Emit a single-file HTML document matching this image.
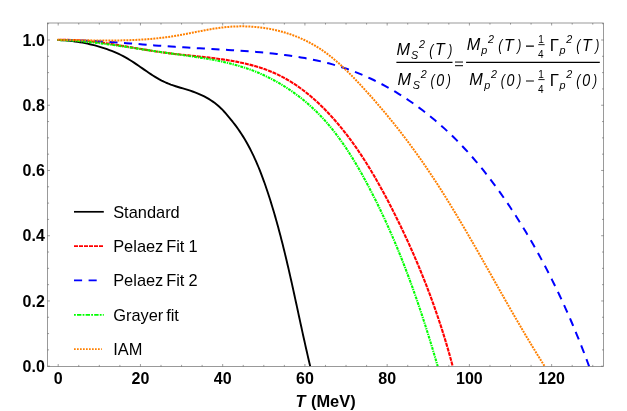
<!DOCTYPE html>
<html><head><meta charset="utf-8"><title>plot</title>
<style>
html,body{margin:0;padding:0;background:#fff;}
body{width:627px;height:411px;position:relative;overflow:hidden;font-family:"Liberation Sans",sans-serif;}
</style></head><body>
<svg width="627" height="411" viewBox="0 0 627 411" style="position:absolute;left:0;top:0;will-change:transform">
<defs><clipPath id="cp"><rect x="47.5" y="23.0" width="556.2" height="343.5"/></clipPath></defs>
<g fill="none" clip-path="url(#cp)" stroke-linejoin="round">
<path d="M57.40,40.10L59.89,40.17L62.39,40.27L64.89,40.42L67.38,40.62L69.98,40.86L72.48,41.14L74.97,41.45L77.46,41.81L79.94,42.21L82.52,42.66L84.99,43.14L87.46,43.65L89.92,44.21L92.47,44.82L94.91,45.45L97.34,46.11L99.75,46.81L102.16,47.55L104.65,48.36L107.02,49.17L109.38,50.02L111.72,50.92L114.14,51.90L116.44,52.89L118.71,53.93L120.96,55.02L123.18,56.16L125.47,57.41L127.64,58.66L129.78,59.95L131.90,61.29L134.00,62.66L136.18,64.12L138.25,65.54L140.32,66.97L142.39,68.40L144.54,69.90L146.61,71.33L148.68,72.74L150.77,74.13L152.87,75.49L155.08,76.87L157.22,78.15L159.38,79.38L161.58,80.55L163.89,81.71L166.15,82.75L168.45,83.71L170.79,84.60L173.15,85.43L175.64,86.25L178.04,87.00L180.46,87.74L182.89,88.46L185.31,89.18L187.83,89.95L190.24,90.71L192.63,91.51L195.00,92.36L197.44,93.30L199.75,94.27L202.02,95.31L204.26,96.41L206.46,97.58L208.71,98.88L210.81,100.21L212.87,101.62L214.88,103.10L216.93,104.71L217.00,104.76L218.45,105.99L219.91,107.31L221.36,108.71L222.82,110.20L224.27,111.76L225.73,113.39L227.18,115.07L228.64,116.80L230.09,118.57L231.55,120.37L233.00,122.19L233.02,122.22L234.72,124.39L236.43,126.68L238.10,129.00L239.72,131.34L241.30,133.72L242.83,136.13L244.32,138.56L245.78,141.02L247.19,143.50L248.57,146.01L249.91,148.55L251.21,151.10L252.44,153.59L253.68,156.19L254.89,158.80L256.06,161.44L257.21,164.09L258.34,166.75L259.43,169.44L260.50,172.13L261.55,174.85L262.57,177.57L263.57,180.30L264.56,183.05L265.52,185.80L266.43,188.47L267.37,191.24L268.28,194.01L269.18,196.80L270.07,199.58L270.95,202.37L271.81,205.17L272.66,207.96L273.50,210.77L274.32,213.58L275.14,216.39L275.94,219.20L276.74,222.02L277.49,224.75L278.27,227.57L279.03,230.40L279.78,233.23L280.53,236.07L281.26,238.90L281.99,241.74L282.71,244.58L283.42,247.43L284.12,250.27L284.82,253.12L285.51,255.97L286.17,258.72L286.84,261.57L287.51,264.43L288.18,267.28L288.84,270.13L289.49,272.99L290.14,275.85L290.78,278.70L291.42,281.56L292.06,284.41L292.69,287.27L293.32,290.12L293.95,292.98L294.55,295.74L295.17,298.59L295.79,301.44L296.41,304.29L297.03,307.14L297.65,309.99L298.26,312.84L298.87,315.68L299.49,318.53L300.10,321.37L300.72,324.21L301.34,327.04L301.95,329.87L302.55,332.61L303.17,335.44L303.79,338.26L304.42,341.08L305.05,343.90L305.68,346.72L306.31,349.53L306.95,352.33L307.59,355.13L308.24,357.93L308.89,360.73L309.54,363.51L310.20,366.30" stroke="#000" stroke-width="1.9"/>
<path d="M57.40,40.00L60.88,39.92L64.34,39.89L67.78,39.92L71.21,40.01L74.62,40.14L78.02,40.32L81.40,40.54L84.77,40.80L88.13,41.11L91.49,41.45L94.83,41.82L98.16,42.22L101.49,42.65L104.81,43.11L108.12,43.59L111.43,44.09L114.74,44.61L118.04,45.14L121.34,45.69L124.65,46.24L127.95,46.80L131.25,47.37L134.56,47.94L137.87,48.50L141.19,49.06L144.51,49.62L147.84,50.16L151.17,50.70L154.52,51.22L157.87,51.72L161.23,52.20L164.61,52.66L167.99,53.10L171.39,53.52L174.80,53.92L178.21,54.30L181.63,54.68L185.05,55.04L188.48,55.40L191.91,55.76L195.34,56.12L198.77,56.49L202.20,56.86L205.62,57.24L209.04,57.63L212.46,58.04L215.86,58.47L219.26,58.93L222.64,59.41L226.02,59.91L229.38,60.45L232.73,61.02L236.06,61.64L239.38,62.29L242.67,62.98L245.95,63.72L249.20,64.52L252.44,65.36L255.65,66.26L258.83,67.22L261.99,68.24L265.11,69.33L268.21,70.49L271.28,71.71L274.32,73.02L277.32,74.39L280.29,75.85L283.22,77.38L286.13,78.98L288.99,80.65L291.83,82.39L294.63,84.20L297.39,86.07L300.12,88.00L302.82,90.00L305.49,92.04L308.12,94.15L310.72,96.30L313.29,98.51L315.82,100.77L318.32,103.07L320.79,105.41L323.22,107.80L325.62,110.23L327.99,112.69L330.33,115.19L332.63,117.72L334.90,120.29L337.14,122.88L339.35,125.50L341.52,128.14L343.66,130.80L345.77,133.49L347.85,136.20L349.89,138.92L351.91,141.66L353.90,144.43L355.86,147.21L357.79,150.00L359.70,152.81L361.58,155.64L363.44,158.49L365.27,161.35L367.08,164.22L368.86,167.10L370.63,170.00L372.37,172.92L374.09,175.84L375.79,178.77L377.47,181.72L379.14,184.67L380.78,187.64L382.42,190.61L384.03,193.59L385.63,196.58L387.22,199.58L388.79,202.58L390.35,205.59L391.89,208.60L393.43,211.62L394.95,214.64L396.46,217.67L397.96,220.71L399.44,223.75L400.92,226.79L402.38,229.85L403.83,232.90L405.26,235.96L406.69,239.03L408.10,242.10L409.49,245.18L410.88,248.27L412.25,251.36L413.61,254.45L414.96,257.55L416.29,260.66L417.61,263.77L418.92,266.88L420.21,270.01L421.49,273.13L422.76,276.27L424.02,279.41L425.26,282.55L426.49,285.70L427.70,288.86L428.90,292.02L430.09,295.18L431.26,298.36L432.43,301.54L433.57,304.72L434.71,307.91L435.82,311.10L436.93,314.30L438.02,317.51L439.10,320.72L440.16,323.94L441.21,327.17L442.25,330.39L443.27,333.63L444.28,336.87L445.27,340.12L446.25,343.37L447.21,346.63L448.17,349.89L449.10,353.16L450.02,356.44L450.93,359.72L451.82,363.01L452.70,366.30" stroke="#ff0000" stroke-width="2.1" stroke-dasharray="4.0 0.85"/>
<path d="M589.10,366.30L587.70,362.50L586.28,358.70L584.84,354.91L583.39,351.13L581.91,347.34L580.42,343.56L578.92,339.79L577.39,336.02L575.85,332.26L574.29,328.50L572.71,324.75L571.11,321.00L569.49,317.27L567.86,313.53L566.20,309.81L564.53,306.09L562.84,302.39L561.13,298.68L559.40,294.99L557.65,291.31L555.88,287.64L554.09,283.97L552.28,280.32L550.45,276.67L548.61,273.04L546.74,269.41L544.85,265.80L542.94,262.19L541.02,258.60L539.07,255.02L537.10,251.45L535.11,247.90L533.10,244.36L531.06,240.83L529.01,237.31L526.94,233.81L524.84,230.31L522.72,226.84L520.59,223.38L518.43,219.93L516.24,216.50L514.04,213.08L511.81,209.68L509.57,206.29L507.29,202.92L505.00,199.57L502.69,196.23L500.35,192.91L497.99,189.61L495.60,186.33L493.19,183.06L490.75,179.82L488.29,176.60L485.79,173.40L483.27,170.22L480.72,167.07L478.14,163.94L475.53,160.84L472.89,157.76L470.21,154.71L467.50,151.69L464.76,148.70L461.98,145.74L459.17,142.81L456.32,139.91L453.43,137.04L450.50,134.21L447.54,131.41L444.55,128.64L441.52,125.91L438.45,123.21L435.35,120.55L432.21,117.93L429.04,115.35L425.83,112.81L422.59,110.31L419.32,107.85L416.02,105.43L412.69,103.06L409.32,100.74L405.93,98.46L402.51,96.23L399.05,94.05L395.57,91.92L392.07,89.84L388.53,87.82L384.97,85.84L381.38,83.93L377.76,82.06L374.12,80.25L370.46,78.51L366.77,76.81L363.06,75.18L359.32,73.61L355.56,72.10L351.78,70.66L347.98,69.28L344.16,67.96L340.31,66.71L336.45,65.52L332.57,64.40L328.67,63.33L324.75,62.33L320.82,61.38L316.87,60.49L312.91,59.64L308.93,58.85L304.95,58.10L300.95,57.40L296.94,56.74L292.92,56.12L288.90,55.53L284.87,54.98L280.83,54.47L276.79,53.98L272.74,53.53L268.69,53.10L264.63,52.69L260.57,52.31L256.51,51.95L252.45,51.61L248.39,51.29L244.32,50.98L240.25,50.70L236.18,50.42L232.11,50.16L228.03,49.90L223.96,49.66L219.88,49.42L215.81,49.19L211.74,48.96L207.66,48.74L203.59,48.52L199.51,48.29L195.44,48.06L191.37,47.83L187.30,47.60L183.23,47.35L179.17,47.10L175.10,46.84L171.04,46.56L166.98,46.28L162.93,45.99L158.87,45.68L154.82,45.38L150.77,45.06L146.72,44.75L142.67,44.43L138.62,44.11L134.57,43.80L130.52,43.48L126.47,43.17L122.42,42.87L118.37,42.57L114.32,42.29L110.27,42.01L106.22,41.74L102.16,41.49L98.11,41.25L94.05,41.03L89.99,40.82L85.93,40.64L81.86,40.47L77.79,40.33L73.72,40.21L69.65,40.12L65.57,40.05L61.49,40.01L57.40,40.00" stroke="#0000ff" stroke-width="2.0" stroke-dasharray="8.1 6.5" stroke-dashoffset="0.4"/>
<path d="M57.40,40.00L60.72,40.08L64.04,40.20L67.35,40.35L70.66,40.53L73.96,40.74L77.26,40.97L80.55,41.24L83.83,41.52L87.12,41.83L90.39,42.16L93.67,42.51L96.94,42.89L100.21,43.27L103.48,43.68L106.75,44.10L110.01,44.54L113.27,44.98L116.54,45.44L119.80,45.91L123.06,46.39L126.32,46.87L129.59,47.36L132.85,47.85L136.12,48.35L139.39,48.85L142.66,49.35L145.93,49.85L149.20,50.34L152.48,50.84L155.76,51.32L159.05,51.81L162.34,52.28L165.63,52.74L168.93,53.20L172.23,53.65L175.53,54.10L178.84,54.55L182.14,55.00L185.45,55.46L188.75,55.92L192.05,56.39L195.35,56.88L198.64,57.38L201.93,57.89L205.21,58.43L208.49,58.99L211.75,59.57L215.01,60.19L218.25,60.83L221.49,61.51L224.71,62.22L227.92,62.97L231.12,63.76L234.30,64.59L237.46,65.47L240.61,66.39L243.74,67.37L246.85,68.40L249.94,69.48L253.02,70.63L256.06,71.83L259.09,73.09L262.10,74.40L265.08,75.77L268.03,77.19L270.96,78.67L273.86,80.20L276.74,81.78L279.59,83.41L282.41,85.10L285.20,86.83L287.96,88.62L290.69,90.45L293.39,92.34L296.05,94.27L298.68,96.24L301.28,98.27L303.84,100.33L306.37,102.45L308.86,104.61L311.32,106.81L313.73,109.05L316.11,111.34L318.44,113.67L320.74,116.03L323.00,118.44L325.21,120.89L327.39,123.37L329.53,125.89L331.64,128.44L333.71,131.03L335.74,133.65L337.74,136.29L339.71,138.97L341.65,141.67L343.56,144.40L345.43,147.15L347.28,149.93L349.10,152.73L350.89,155.54L352.66,158.38L354.40,161.24L356.12,164.11L357.81,166.99L359.49,169.89L361.14,172.80L362.77,175.72L364.38,178.65L365.97,181.59L367.54,184.54L369.10,187.49L370.64,190.44L372.16,193.40L373.67,196.37L375.17,199.34L376.64,202.31L378.11,205.29L379.55,208.28L380.98,211.26L382.40,214.26L383.80,217.26L385.19,220.26L386.56,223.27L387.92,226.28L389.27,229.30L390.60,232.32L391.92,235.34L393.22,238.37L394.52,241.41L395.79,244.45L397.06,247.49L398.32,250.54L399.56,253.59L400.79,256.65L402.00,259.71L403.21,262.78L404.40,265.85L405.59,268.92L406.76,272.00L407.92,275.08L409.07,278.17L410.21,281.26L411.34,284.36L412.46,287.46L413.57,290.56L414.67,293.67L415.76,296.79L416.84,299.90L417.91,303.03L418.97,306.15L420.02,309.28L421.07,312.42L422.10,315.55L423.13,318.69L424.15,321.84L425.16,324.99L426.17,328.15L427.17,331.30L428.16,334.47L429.14,337.63L430.12,340.80L431.08,343.98L432.05,347.15L433.00,350.33L433.95,353.52L434.90,356.71L435.84,359.90L436.77,363.10L437.70,366.30" stroke="#00ff00" stroke-width="2.1" stroke-dasharray="1.3 0.9 2.8 0.9"/>
<path d="M57.40,39.80L61.34,39.86L65.27,39.92L69.20,39.99L73.12,40.07L77.04,40.14L80.96,40.22L84.87,40.29L88.79,40.35L92.69,40.41L96.60,40.46L100.50,40.49L104.40,40.51L108.30,40.52L112.19,40.50L116.08,40.47L119.97,40.41L123.85,40.33L127.74,40.22L131.62,40.09L135.50,39.92L139.37,39.72L143.25,39.48L147.12,39.20L150.99,38.89L154.86,38.53L158.73,38.13L162.60,37.69L166.47,37.19L170.33,36.65L174.19,36.05L178.06,35.40L181.92,34.70L185.78,33.97L189.64,33.22L193.50,32.46L197.37,31.69L201.23,30.94L205.10,30.20L208.97,29.50L212.85,28.85L216.72,28.25L220.61,27.71L224.49,27.26L228.38,26.89L232.28,26.62L236.18,26.44L240.07,26.35L243.97,26.36L247.85,26.47L251.73,26.67L255.60,26.97L259.46,27.36L263.29,27.85L267.12,28.44L270.92,29.13L274.70,29.91L278.45,30.79L282.17,31.77L285.87,32.85L289.53,34.03L293.16,35.31L296.75,36.69L300.30,38.17L303.80,39.75L307.26,41.43L310.68,43.21L314.04,45.10L317.36,47.08L320.61,49.17L323.82,51.36L326.97,53.64L330.06,56.01L333.11,58.46L336.12,60.99L339.08,63.58L342.00,66.24L344.88,68.95L347.72,71.71L350.53,74.51L353.31,77.34L356.07,80.21L358.79,83.09L361.49,85.99L364.17,88.90L366.83,91.82L369.46,94.76L372.08,97.70L374.68,100.65L377.25,103.61L379.80,106.58L382.34,109.56L384.85,112.55L387.34,115.55L389.82,118.57L392.27,121.59L394.71,124.63L397.13,127.67L399.52,130.73L401.90,133.80L404.26,136.88L406.61,139.97L408.93,143.08L411.24,146.20L413.53,149.33L415.80,152.47L418.06,155.62L420.30,158.79L422.52,161.97L424.72,165.17L426.91,168.37L429.08,171.59L431.24,174.82L433.39,178.06L435.52,181.32L437.63,184.58L439.73,187.85L441.82,191.14L443.90,194.43L445.97,197.73L448.02,201.04L450.07,204.36L452.10,207.69L454.12,211.03L456.14,214.37L458.14,217.72L460.14,221.08L462.13,224.44L464.11,227.81L466.08,231.18L468.05,234.56L470.01,237.95L471.97,241.33L473.92,244.73L475.87,248.12L477.81,251.52L479.75,254.92L481.68,258.33L483.61,261.73L485.54,265.14L487.47,268.55L489.40,271.96L491.32,275.37L493.25,278.78L495.17,282.19L497.10,285.60L499.02,289.01L500.95,292.42L502.88,295.83L504.82,299.23L506.75,302.63L508.69,306.03L510.63,309.43L512.58,312.82L514.53,316.21L516.49,319.59L518.45,322.97L520.42,326.35L522.39,329.71L524.38,333.08L526.37,336.43L528.37,339.78L530.37,343.13L532.39,346.46L534.41,349.79L536.45,353.11L538.50,356.42L540.55,359.72L542.62,363.02L544.70,366.30" stroke="#ff8000" stroke-width="2.0" stroke-dasharray="1.95 1.05"/>
</g>
<rect x="47.45" y="23.0" width="556.2" height="343.5" fill="none" stroke="#5c5c5c" stroke-width="0.62"/>
<path d="M58.20,366.5v-2.5M58.20,23.0v2.5M78.76,366.5v-1.6M78.76,23.0v1.6M99.32,366.5v-1.6M99.32,23.0v1.6M119.88,366.5v-1.6M119.88,23.0v1.6M140.44,366.5v-2.5M140.44,23.0v2.5M161.00,366.5v-1.6M161.00,23.0v1.6M181.56,366.5v-1.6M181.56,23.0v1.6M202.12,366.5v-1.6M202.12,23.0v1.6M222.68,366.5v-2.5M222.68,23.0v2.5M243.24,366.5v-1.6M243.24,23.0v1.6M263.80,366.5v-1.6M263.80,23.0v1.6M284.36,366.5v-1.6M284.36,23.0v1.6M304.92,366.5v-2.5M304.92,23.0v2.5M325.48,366.5v-1.6M325.48,23.0v1.6M346.04,366.5v-1.6M346.04,23.0v1.6M366.60,366.5v-1.6M366.60,23.0v1.6M387.16,366.5v-2.5M387.16,23.0v2.5M407.72,366.5v-1.6M407.72,23.0v1.6M428.28,366.5v-1.6M428.28,23.0v1.6M448.84,366.5v-1.6M448.84,23.0v1.6M469.40,366.5v-2.5M469.40,23.0v2.5M489.96,366.5v-1.6M489.96,23.0v1.6M510.52,366.5v-1.6M510.52,23.0v1.6M531.08,366.5v-1.6M531.08,23.0v1.6M551.64,366.5v-2.5M551.64,23.0v2.5M572.20,366.5v-1.6M572.20,23.0v1.6M592.76,366.5v-1.6M592.76,23.0v1.6M47.45,366.20h2.5M603.62,366.20h-2.5M47.45,349.89h1.6M603.62,349.89h-1.6M47.45,333.58h1.6M603.62,333.58h-1.6M47.45,317.27h1.6M603.62,317.27h-1.6M47.45,300.96h2.5M603.62,300.96h-2.5M47.45,284.65h1.6M603.62,284.65h-1.6M47.45,268.34h1.6M603.62,268.34h-1.6M47.45,252.03h1.6M603.62,252.03h-1.6M47.45,235.72h2.5M603.62,235.72h-2.5M47.45,219.41h1.6M603.62,219.41h-1.6M47.45,203.10h1.6M603.62,203.10h-1.6M47.45,186.79h1.6M603.62,186.79h-1.6M47.45,170.48h2.5M603.62,170.48h-2.5M47.45,154.17h1.6M603.62,154.17h-1.6M47.45,137.86h1.6M603.62,137.86h-1.6M47.45,121.55h1.6M603.62,121.55h-1.6M47.45,105.24h2.5M603.62,105.24h-2.5M47.45,88.93h1.6M603.62,88.93h-1.6M47.45,72.62h1.6M603.62,72.62h-1.6M47.45,56.31h1.6M603.62,56.31h-1.6M47.45,40.00h2.5M603.62,40.00h-2.5M47.45,23.69h1.6M603.62,23.69h-1.6" stroke="#5c5c5c" stroke-width="0.6" fill="none"/>
<g font-family="Liberation Sans, sans-serif" font-weight="bold" font-size="16" fill="#000">
<text x="58.2" y="383.8" text-anchor="middle">0</text>
<text x="140.4" y="383.8" text-anchor="middle">20</text>
<text x="222.7" y="383.8" text-anchor="middle">40</text>
<text x="304.9" y="383.8" text-anchor="middle">60</text>
<text x="387.2" y="383.8" text-anchor="middle">80</text>
<text x="469.4" y="383.8" text-anchor="middle">100</text>
<text x="551.6" y="383.8" text-anchor="middle">120</text>
<text x="44.8" y="371.9" text-anchor="end">0.0</text>
<text x="44.8" y="306.7" text-anchor="end">0.2</text>
<text x="44.8" y="241.4" text-anchor="end">0.4</text>
<text x="44.8" y="176.2" text-anchor="end">0.6</text>
<text x="44.8" y="110.9" text-anchor="end">0.8</text>
<text x="44.8" y="45.7" text-anchor="end">1.0</text>
</g>
<g font-family="Liberation Sans, sans-serif" font-weight="bold" font-size="16.4" fill="#000">
<text x="295.4" y="406.5" font-style="italic">T</text>
<text x="311.0" y="406.5">(MeV)</text>
</g>
<g fill="none">
<path d="M74,211.8H103.8" stroke="#000" stroke-width="1.7"/>
<path d="M74,246.1H103.8" stroke="#ff0000" stroke-width="1.7" stroke-dasharray="4.0 1.0"/>
<path d="M74,280.4H102.5" stroke="#0000ff" stroke-width="1.7" stroke-dasharray="8.1 6.5"/>
<path d="M74,314.9H103.8" stroke="#00ff00" stroke-width="1.8" stroke-dasharray="1.8 1.2 4.4 1.2"/>
<path d="M74,349.2H101.8" stroke="#ff8000" stroke-width="1.8" stroke-dasharray="1.7 1.3"/>
</g>
<g font-family="Liberation Sans, sans-serif" font-size="16.4" fill="#000" word-spacing="-1.7">
<text x="113.2" y="217.6">Standard</text>
<text x="113.2" y="251.9">Pelaez Fit<tspan dx="1.2"> 1</tspan></text>
<text x="113.2" y="286.2">Pelaez Fit<tspan dx="1.2"> 2</tspan></text>
<text x="113.2" y="320.7">Grayer fit</text>
<text x="113.2" y="355.0">IAM</text>
</g>
<g font-family="Liberation Sans, sans-serif" fill="#000">
<text transform="translate(396.42,54.80) scale(1.030,1)" font-size="15.8" font-style="italic">M</text>
<text x="410.98" y="59.10" font-size="10.8" font-style="italic">S</text>
<text x="419.08" y="48.20" font-size="10.8" font-style="italic">2</text>
<text transform="translate(429.32,55.50) scale(0.780,1)" font-size="15.8" font-style="italic">(</text>
<text x="435.12" y="55.10" font-size="15.8" font-style="italic">T</text>
<text transform="translate(448.19,55.50) scale(0.780,1)" font-size="15.8" font-style="italic">)</text>
<text transform="translate(397.52,85.30) scale(1.030,1)" font-size="15.8" font-style="italic">M</text>
<text x="412.63" y="89.45" font-size="10.8" font-style="italic">S</text>
<text x="420.83" y="77.60" font-size="10.8" font-style="italic">2</text>
<text transform="translate(430.57,86.00) scale(0.780,1)" font-size="15.8" font-style="italic">(</text>
<text transform="translate(436.34,85.70) scale(0.870,1)" font-size="16.4" font-style="italic">0</text>
<text transform="translate(446.74,86.00) scale(0.780,1)" font-size="15.8" font-style="italic">)</text>
<text transform="translate(466.77,50.40) scale(1.030,1)" font-size="15.8" font-style="italic">M</text>
<text x="481.30" y="54.40" font-size="10.8" font-style="italic">p</text>
<text x="487.98" y="42.80" font-size="10.8" font-style="italic">2</text>
<text transform="translate(498.32,51.20) scale(0.780,1)" font-size="15.8" font-style="italic">(</text>
<text x="504.12" y="50.60" font-size="15.8" font-style="italic">T</text>
<text transform="translate(517.14,51.20) scale(0.780,1)" font-size="15.8" font-style="italic">)</text>
<text x="538.30" y="42.70" font-size="10.0">1</text>
<text x="538.05" y="58.05" font-size="10.0">4</text>
<text transform="translate(549.79,51.00) scale(1.060,1)" font-size="15.8">Γ</text>
<text x="559.50" y="54.30" font-size="10.8" font-style="italic">p</text>
<text x="566.28" y="43.00" font-size="10.8" font-style="italic">2</text>
<text transform="translate(576.37,51.10) scale(0.780,1)" font-size="15.8" font-style="italic">(</text>
<text x="582.08" y="50.90" font-size="15.8" font-style="italic">T</text>
<text transform="translate(595.34,51.10) scale(0.780,1)" font-size="15.8" font-style="italic">)</text>
<text transform="translate(469.32,85.30) scale(1.030,1)" font-size="15.8" font-style="italic">M</text>
<text x="484.15" y="89.30" font-size="10.8" font-style="italic">p</text>
<text x="490.98" y="77.50" font-size="10.8" font-style="italic">2</text>
<text transform="translate(500.67,86.00) scale(0.780,1)" font-size="15.8" font-style="italic">(</text>
<text transform="translate(506.49,85.80) scale(0.870,1)" font-size="16.4" font-style="italic">0</text>
<text transform="translate(517.24,86.00) scale(0.780,1)" font-size="15.8" font-style="italic">)</text>
<text x="538.30" y="77.50" font-size="10.0">1</text>
<text x="538.05" y="93.10" font-size="10.0">4</text>
<text transform="translate(549.79,85.80) scale(1.060,1)" font-size="15.8">Γ</text>
<text x="559.50" y="89.30" font-size="10.8" font-style="italic">p</text>
<text x="566.28" y="77.60" font-size="10.8" font-style="italic">2</text>
<text transform="translate(576.37,86.00) scale(0.780,1)" font-size="15.8" font-style="italic">(</text>
<text transform="translate(582.19,85.80) scale(0.870,1)" font-size="16.4" font-style="italic">0</text>
<text transform="translate(592.94,86.00) scale(0.780,1)" font-size="15.8" font-style="italic">)</text>
</g>
<path d="M396.4,62.4H452.5M466.1,62.4H599.8" stroke="#000" stroke-width="1.1" fill="none"/>
<path d="M455,62.05H463M455,65.7H463" stroke="#000" stroke-width="1.0" fill="none"/>
<path d="M526,46.1H533.9M526,80.9H533.9" stroke="#000" stroke-width="1.05" fill="none"/>
<path d="M538.3,44.65H544.6M538.3,79.6H544.6" stroke="#000" stroke-width="0.9" fill="none"/>
</svg>
</body></html>
